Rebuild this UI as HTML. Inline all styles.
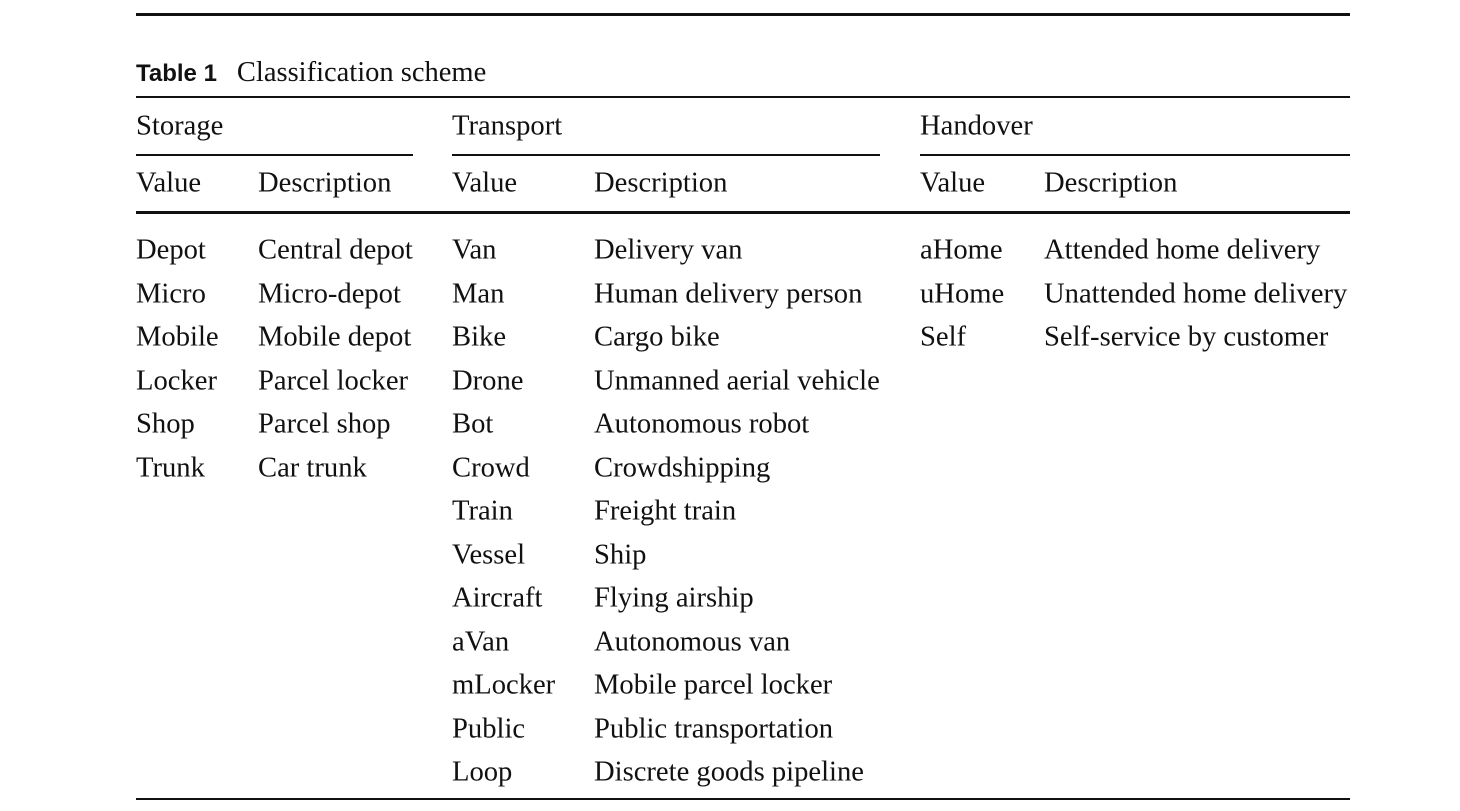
<!DOCTYPE html>
<html><head><meta charset="utf-8"><style>
body{margin:0;width:1460px;height:811px;background:#fff;position:relative;overflow:hidden;font-family:"Liberation Serif",serif;color:#111}
.l{position:absolute;background:#111}
.t{position:absolute;font-size:28.6px;line-height:30px;white-space:nowrap;transform:translateY(-48%);margin-top:2px}
.cap{position:absolute;left:136px;top:73px;transform:translateY(-50%);font-size:28.5px;white-space:nowrap}
.cap b{font-family:"Liberation Sans",sans-serif;font-size:24px;margin-right:20px}
</style></head><body>
<div class="l" style="left:136px;top:13px;width:1214px;height:3px"></div>
<div class="cap"><b>Table 1</b>Classification scheme</div>
<div class="l" style="left:136px;top:96px;width:1214px;height:2px"></div>
<div class="t" style="left:136px;top:124px">Storage</div>
<div class="t" style="left:452px;top:124px">Transport</div>
<div class="t" style="left:920px;top:124px">Handover</div>
<div class="l" style="left:136px;top:154px;width:277px;height:2px"></div>
<div class="l" style="left:452px;top:154px;width:428px;height:2px"></div>
<div class="l" style="left:920px;top:154px;width:430px;height:2px"></div>
<div class="t" style="left:136px;top:181px">Value</div>
<div class="t" style="left:258px;top:181px">Description</div>
<div class="t" style="left:452px;top:181px">Value</div>
<div class="t" style="left:594px;top:181px">Description</div>
<div class="t" style="left:920px;top:181px">Value</div>
<div class="t" style="left:1044px;top:181px">Description</div>
<div class="l" style="left:136px;top:211px;width:1214px;height:3px"></div>
<div id="rows"></div>
<div class="l" style="left:136px;top:798px;width:1214px;height:2px"></div>
<script>
var s=[["Depot","Central depot"],["Micro","Micro-depot"],["Mobile","Mobile depot"],["Locker","Parcel locker"],["Shop","Parcel shop"],["Trunk","Car trunk"]];
var t=[["Van","Delivery van"],["Man","Human delivery person"],["Bike","Cargo bike"],["Drone","Unmanned aerial vehicle"],["Bot","Autonomous robot"],["Crowd","Crowdshipping"],["Train","Freight train"],["Vessel","Ship"],["Aircraft","Flying airship"],["aVan","Autonomous van"],["mLocker","Mobile parcel locker"],["Public","Public transportation"],["Loop","Discrete goods pipeline"]];
var h=[["aHome","Attended home delivery"],["uHome","Unattended home delivery"],["Self","Self-service by customer"]];
var out="";
function add(arr,x1,x2){arr.forEach(function(r,i){var y=248+i*43.5;out+='<div class="t" style="left:'+x1+'px;top:'+y+'px">'+r[0]+'</div><div class="t" style="left:'+x2+'px;top:'+y+'px">'+r[1]+'</div>';});}
add(s,136,258);add(t,452,594);add(h,920,1044);
document.getElementById("rows").innerHTML=out;
</script>
</body></html>
